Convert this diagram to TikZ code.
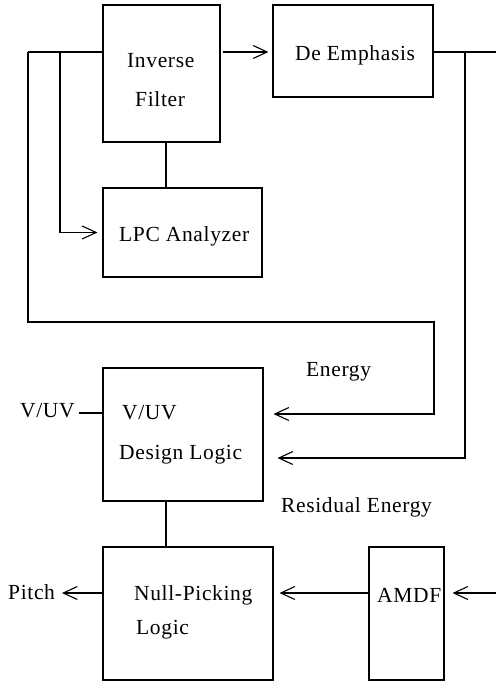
\documentclass[tikz,border=0pt]{standalone}
\usepackage{fontspec}
\setmainfont{Liberation Serif}[LetterSpace=3]
\usetikzlibrary{arrows.meta}
\begin{document}
\begin{tikzpicture}[x=1pt,y=-1pt,
  ln/.style={line width=1.1pt},
  arr/.style={ln,-{Straight Barb[length=14pt,width=13pt,line width=1.1pt]}},
  box/.style={draw,line width=1.1pt,inner sep=0pt},
  lbl/.style={font=\fontsize{21.5}{26}\selectfont,inner sep=0pt,anchor=base west}]
\useasboundingbox (0,0) rectangle (496,684);
% boxes
\node[box,minimum width=117pt,minimum height=137pt] (inv) at (161.5,73.5) {};
\node[box,minimum width=160pt,minimum height=92pt] (deemph) at (353,51) {};
\node[box,minimum width=159pt,minimum height=89pt] (lpc) at (182.5,232.5) {};
\node[box,minimum width=160pt,minimum height=133pt] (vuv) at (183,434.5) {};
\node[box,minimum width=170pt,minimum height=133pt] (null) at (188,613.5) {};
\node[box,minimum width=75pt,minimum height=133pt] (amdf) at (406.5,613.5) {};
% texts
\node[lbl] (tinv1) at (127,68) {Inverse};
\node[lbl] (tinv2) at (135,107) {Filter};
\node[lbl] (tde) at (295,61) {De Emphasis};
\node[lbl] (tlpc) at (119,242) {LPC Analyzer};
\node[lbl] (tv1) at (122,419) {V/UV};
\node[lbl] (tv2) at (119,459) {Design Logic};
\node[lbl] (tn1) at (134,600) {Null-Picking};
\node[lbl] (tn2) at (136,634) {Logic};
\node[lbl] (tam) at (377,602) {AMDF};
\node[lbl] (ten) at (306,376) {Energy};
\node[lbl] (tres) at (281,512) {Residual Energy};
\node[lbl] (tvo) at (20,417) {V/UV};
\node[lbl] (tpi) at (8,599) {Pitch};
% coordinates
\coordinate (y52) at (0,52);
\coordinate (jL) at (28,52);
\coordinate (jB) at (60,52);
\coordinate (cL) at (28,322);
\coordinate (cE) at (434,322);
\coordinate (cE2) at (434,414);
\coordinate (jR) at (465,52);
\coordinate (cR) at (465,458);
\coordinate (edgeT) at (496,52);
\coordinate (edgeA) at (496,593);
\coordinate (x166) at (166,0);
\coordinate (vo) at (79,413);
\coordinate (po) at (62,593);
% connectors
\draw[arr,shorten <=2pt,shorten >=4pt] (inv.east |- y52) -- (deemph.west |- y52);
\draw[ln] (inv.west |- y52) -- (jL);
\draw[arr,shorten >=10pt] (jL) -- (cL) -- (cE) -- (cE2) -- (vuv.east |- cE2);
\draw[arr,shorten >=5pt] (jB) |- (lpc.west);
\draw[ln] (inv.south -| x166) -- (lpc.north -| x166);
\draw[ln] (deemph.east |- y52) -- (edgeT);
\draw[arr,shorten >=14pt] (jR) -- (cR) -- (vuv.east |- cR);
\draw[ln] (vuv.south -| x166) -- (null.north -| x166);
\draw[ln] (vo) -- (vuv.west |- vo);
\draw[arr] (null.west |- po) -- (po);
\draw[arr,shorten >=6pt] (amdf.west |- edgeA) -- (null.east |- edgeA);
\draw[arr,shorten >=8pt] (edgeA) -- (amdf.east |- edgeA);
\end{tikzpicture}
\end{document}
